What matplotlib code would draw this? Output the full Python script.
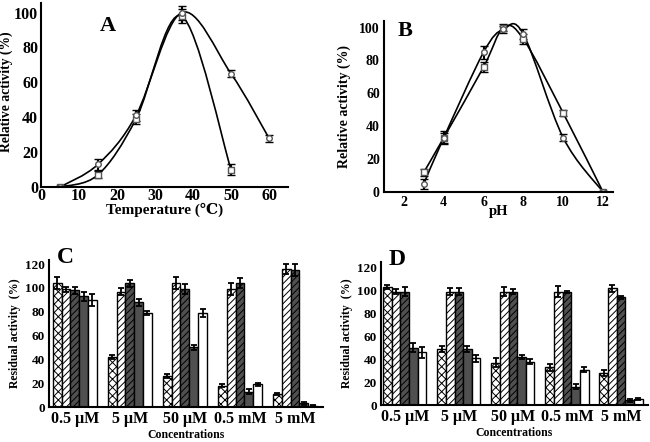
import matplotlib
matplotlib.use("Agg")
import matplotlib.pyplot as plt
import numpy as np
from matplotlib.path import Path
from matplotlib.patches import PathPatch

plt.rcParams['font.family'] = ['Liberation Serif', 'DejaVu Serif', 'DejaVu Sans']
plt.rcParams['hatch.linewidth'] = 0.7

# ---- panel A: temperature ----
temp_sq = [5, 15, 25, 37, 50]
act_sq = [0, 7, 39, 98, 10]
err_sq = [0.5, 2, 3, 4, 3]
temp_ci = [5, 15, 25, 37, 50, 60]
act_ci = [0, 13, 41, 100, 65, 28]
err_ci = [0.5, 3, 3, 4, 2, 2]

# ---- panel B: pH ----
ph_sq = [3, 4, 6, 7, 8, 10, 12]
phact_sq = [12, 33, 76, 100, 93, 48, 0]
pherr_sq = [2, 4, 3, 2, 3, 2, 0.5]
ph_ci = [3, 4, 6, 7, 8, 10, 12]
phact_ci = [5, 33, 85, 99, 96, 33, 0]
pherr_ci = [3, 3, 4, 2, 3, 2, 0.5]

# ---- panels C and D: residual activity ----
conc = ['0.5 μM', '5 μM', '50 μM', '0.5 mM', '5 mM']
c_vals = [[104, 42, 26, 18, 11],
          [99, 97, 104, 99, 116],
          [98, 104, 99, 104, 115],
          [93, 88, 50, 13, 3],
          [90, 79, 79, 19, 1]]
c_errs = [[5, 2, 2, 1, 1],
          [2, 3, 5, 5, 4],
          [3, 3, 4, 4, 5],
          [4, 3, 2, 2, 1],
          [5, 2, 3, 1, 0.5]]
d_vals = [[103, 49, 37, 33, 28],
          [99, 99, 99, 99, 102],
          [99, 99, 99, 99, 94],
          [50, 49, 42, 16, 4],
          [46, 41, 38, 31, 5]]
d_errs = [[2, 3, 4, 3, 3],
          [2, 3, 4, 5, 3],
          [4, 3, 2, 1, 1],
          [4, 3, 2, 2, 1],
          [5, 3, 2, 2, 1]]

bar_face = ['white', 'white', '#505050', '#505050', 'white']
bar_hatch = ['xxxx', '/////', '/////', None, None]


def smooth_line(ax, x, y, sx, sy):
    # Catmull-Rom -> cubic bezier, computed in scaled space (like Excel smoothing)
    p = np.column_stack([np.asarray(x, float) * sx, np.asarray(y, float) * sy])
    n = len(p)
    verts = [p[0]]
    codes = [Path.MOVETO]
    for i in range(n - 1):
        p0 = p[i - 1] if i > 0 else p[i]
        p3 = p[i + 2] if i + 2 < n else p[i + 1]
        c1 = p[i] + (p[i + 1] - p0) / 6
        c2 = p[i + 1] - (p3 - p[i]) / 6
        verts += [c1, c2, p[i + 1]]
        codes += [Path.CURVE4] * 3
    verts = np.array(verts) / [sx, sy]
    ax.add_patch(PathPatch(Path(verts, codes), fill=False, lw=1.2, color='black'))


def style_axes(ax):
    for s in ['top', 'right']:
        ax.spines[s].set_visible(False)
    for s in ['left', 'bottom']:
        ax.spines[s].set_linewidth(1.5)
    ax.tick_params(length=0, pad=3)


fig = plt.figure(figsize=(6.5, 4.42), dpi=100)
W, H = 650, 442


def px_axes(l, t, r, b):
    return fig.add_axes([l / W, 1 - b / H, (r - l) / W, (b - t) / H])


# Panel A
axA = px_axes(41, 3, 288, 187)
style_axes(axA)
smooth_line(axA, temp_sq, act_sq, 3.8, 1.75)
smooth_line(axA, temp_ci, act_ci, 3.8, 1.75)
axA.errorbar(temp_sq, act_sq, yerr=err_sq, fmt='s', ms=4, mfc='white', mec='#555555',
             mew=1, ecolor='black', elinewidth=1.5, capsize=3, capthick=1.5)
axA.errorbar(temp_ci, act_ci, yerr=err_ci, fmt='o', ms=4, mfc='white', mec='#555555',
             mew=1, ecolor='black', elinewidth=1.5, capsize=3, capthick=1.5)
axA.set_xlim(0, 65)
axA.set_ylim(0, 105.5)
axA.set_xticks(range(0, 61, 10))
axA.set_yticks(range(0, 101, 20))
for lab in axA.get_xticklabels() + axA.get_yticklabels():
    lab.set_fontweight('bold')
    lab.set_fontsize(11.5)
axA.tick_params(axis='y', pad=2)
axA.tick_params(axis='x', pad=1)
axA.set_xlabel('Temperature (℃)', fontsize=11, fontweight='bold', labelpad=-1)
axA.set_ylabel('Relative activity (%)', fontsize=9.8, fontweight='bold')
axA.yaxis.set_label_coords(-0.113, 0.52)
axA.text(0.27, 0.93, 'A', transform=axA.transAxes, fontsize=16, fontweight='bold',
         va='top', ha='center')

# Panel B
axB = px_axes(384, 21, 613, 192)
style_axes(axB)
smooth_line(axB, ph_sq, phact_sq, 19.9, 1.64)
smooth_line(axB, ph_ci, phact_ci, 19.9, 1.64)
axB.errorbar(ph_sq, phact_sq, yerr=pherr_sq, fmt='s', ms=4, mfc='white', mec='#555555',
             mew=1, ecolor='black', elinewidth=1.5, capsize=3, capthick=1.5)
axB.errorbar(ph_ci, phact_ci, yerr=pherr_ci, fmt='o', ms=4, mfc='white', mec='#555555',
             mew=1, ecolor='black', elinewidth=1.5, capsize=3, capthick=1.5)
axB.set_xlim(1.0, 12.5)
axB.set_ylim(0, 104)
axB.set_xticks(range(2, 13, 2))
axB.set_yticks(range(0, 101, 20))
for lab in axB.get_xticklabels() + axB.get_yticklabels():
    lab.set_fontweight('bold')
    lab.set_fontsize(10)
axB.set_xlabel('pH', fontsize=10.5, fontweight='bold', labelpad=-3)
axB.set_ylabel('Relative activity (%)', fontsize=10, fontweight='bold', labelpad=6)
axB.text(0.09, 1.0, 'B', transform=axB.transAxes, fontsize=16, fontweight='bold',
         va='top', ha='center')


def bar_panel(ax, vals, errs, letter, lx):
    style_axes(ax)
    x = np.arange(len(conc))
    w = 0.16
    for k in range(5):
        ax.bar(x + (k - 2) * w, vals[k], w, yerr=errs[k], color=bar_face[k],
               hatch=bar_hatch[k], edgecolor='black', linewidth=1,
               error_kw=dict(ecolor='black', elinewidth=1.3, capsize=2.5, capthick=1.3))
    ax.set_xticks(x)
    ax.set_xticklabels(conc, fontsize=11.5, fontweight='bold')
    ax.set_yticks(range(0, 121, 20))
    for lab in ax.get_yticklabels():
        lab.set_fontweight('bold')
        lab.set_fontsize(9.5)
    ax.set_xlabel('Concentrations', fontsize=8.5, fontweight='bold', labelpad=1)
    ax.set_ylabel('Residual activity  (%)', fontsize=8.5, fontweight='bold', labelpad=3)
    ax.text(lx, 1.09, letter, transform=ax.transAxes, fontsize=17, fontweight='bold',
            va='top', ha='center')


axC = px_axes(49, 260, 323, 407)
axC.set_xlim(-0.47, 4.51)
axC.set_ylim(0, 123.5)
bar_panel(axC, c_vals, c_errs, 'C', 0.06)

axD = px_axes(381, 262, 648, 405)
axD.set_xlim(-0.44, 4.5)
axD.set_ylim(0, 125)
bar_panel(axD, d_vals, d_errs, 'D', 0.06)

fig.savefig('out.png', dpi=100)
